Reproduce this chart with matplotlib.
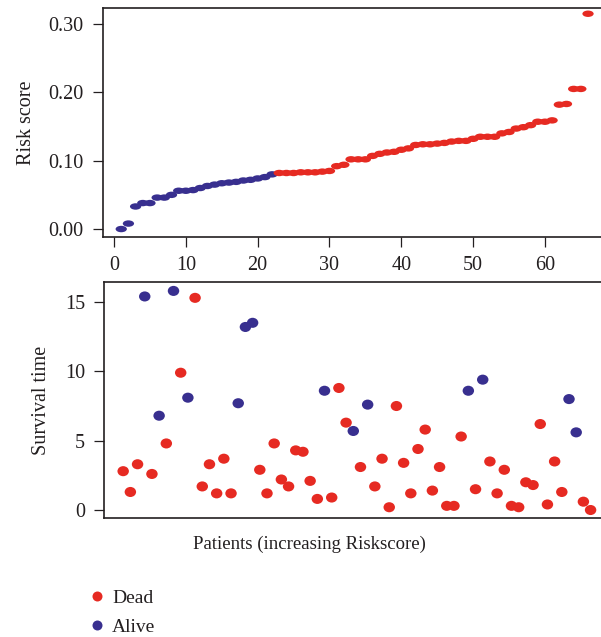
import matplotlib
matplotlib.use("Agg")
import matplotlib.pyplot as plt
from matplotlib.path import Path
from matplotlib.lines import Line2D
import numpy as np

#risk score of each patient, sorted ascending
risk_score = [0.000, 0.008, 0.033, 0.038, 0.038, 0.046, 0.046, 0.050, 0.056, 0.056,
              0.057, 0.060, 0.063, 0.065, 0.067, 0.068, 0.069, 0.071, 0.072, 0.074,
              0.076, 0.080, 0.082, 0.082, 0.082, 0.083, 0.083, 0.083, 0.084, 0.085,
              0.092, 0.094, 0.102, 0.102, 0.102, 0.107, 0.110, 0.112, 0.113, 0.116,
              0.118, 0.123, 0.124, 0.124, 0.125, 0.126, 0.128, 0.129, 0.129, 0.132,
              0.135, 0.135, 0.135, 0.140, 0.142, 0.147, 0.149, 0.152, 0.157, 0.157,
              0.159, 0.182, 0.183, 0.205, 0.205, 0.315]

#number of patients in the low risk group (first ones after sorting)
n_low_risk = 22

#survival time of the same patients
survival_time = [2.8, 1.3, 3.3, 15.4, 2.6, 6.8, 4.8, 15.8, 9.9, 8.1,
                 15.3, 1.7, 3.3, 1.2, 3.7, 1.2, 7.7, 13.2, 13.5, 2.9,
                 1.2, 4.8, 2.2, 1.7, 4.3, 4.2, 2.1, 0.8, 8.6, 0.9,
                 8.8, 6.3, 5.7, 3.1, 7.6, 1.7, 3.7, 0.2, 7.5, 3.4,
                 1.2, 4.4, 5.8, 1.4, 3.1, 0.3, 0.3, 5.3, 8.6, 1.5,
                 9.4, 3.5, 1.2, 2.9, 0.3, 0.2, 2.0, 1.8, 6.2, 0.4,
                 3.5, 1.3, 8.0, 5.6, 0.6, 0.0]

#status: 1 = dead, 0 = alive
status = [1, 1, 1, 0, 1, 0, 1, 0, 1, 0,
          1, 1, 1, 1, 1, 1, 0, 0, 0, 1,
          1, 1, 1, 1, 1, 1, 1, 1, 0, 1,
          1, 1, 0, 1, 0, 1, 1, 1, 1, 1,
          1, 1, 1, 1, 1, 1, 1, 1, 0, 1,
          0, 1, 1, 1, 1, 1, 1, 1, 1, 1,
          1, 1, 0, 0, 1, 1]

top_xticks = [0, 10, 20, 30, 40, 50, 60]
top_yticks = [0.00, 0.10, 0.20, 0.30]
bottom_yticks = [0, 5, 10, 15]
legend_labels = ["Dead", "Alive"]

red = "#E62A22"
blue = "#382F8F"
ink = "#231F20"

plt.rcParams["font.family"] = ["Liberation Serif", "DejaVu Serif"]
plt.rcParams["text.color"] = ink
plt.rcParams["axes.labelcolor"] = ink
plt.rcParams["xtick.color"] = ink
plt.rcParams["ytick.color"] = ink


def ellipse_marker(ratio):
    #unit circle squashed vertically
    circle = Path.unit_circle()
    return Path(circle.vertices * np.array([1.0, ratio]), circle.codes)


patients = np.arange(1, len(risk_score) + 1)
top_colors = [blue if i < n_low_risk else red for i in range(len(risk_score))]
bottom_colors = [red if s == 1 else blue for s in status]

fig = plt.figure(figsize=(6.01, 6.37), dpi=100)
ax_top = fig.add_axes([0.1709, 0.6279, 0.835, 0.3591])
ax_bot = fig.add_axes([0.1730, 0.1863, 0.833, 0.3705])

#risk score panel
ax_top.scatter(patients, risk_score, c=top_colors, s=66, marker=ellipse_marker(0.57),
               linewidths=0, zorder=3)
ax_top.set_xlim(-1.58, 68.3)
ax_top.set_ylim(-0.0117, 0.323)
ax_top.set_xticks(top_xticks)
ax_top.set_yticks(top_yticks)
ax_top.set_yticklabels([f"{v:.2f}" for v in top_yticks])
ax_top.set_ylabel("Risk score", fontsize=14.5)
ax_top.yaxis.label.set_va("center")
ax_top.yaxis.set_label_coords(-0.152, 0.5)

#survival time panel
ax_bot.scatter(patients, survival_time, c=bottom_colors, s=68, marker=ellipse_marker(0.88),
               linewidths=0, zorder=3)
ax_bot.set_xlim(-1.67, 67.95)
ax_bot.set_ylim(-0.6, 16.42)
ax_bot.set_xticks([])
ax_bot.set_yticks(bottom_yticks)
ax_bot.set_ylabel("Survival time", fontsize=14.5)
ax_bot.yaxis.label.set_va("center")
ax_bot.yaxis.set_label_coords(-0.125, 0.5)
ax_bot.set_xlabel("Patients (increasing Riskscore)", fontsize=13.5)
ax_bot.xaxis.set_label_coords(0.41, -0.109)
ax_bot.xaxis.label.set_va("center")

for ax in (ax_top, ax_bot):
    for side in ("left", "top", "bottom"):
        ax.spines[side].set_color(ink)
        ax.spines[side].set_linewidth(1.2)
    ax.spines["right"].set_visible(False)
    ax.tick_params(direction="out", length=7.2, width=0.9, pad=6.5, labelsize=14.5)

#legend below the panels
handles = [Line2D([], [], linestyle="none", marker="o", markersize=7.2,
                  markerfacecolor=c, markeredgewidth=0) for c in (red, blue)]
fig.legend(handles, legend_labels, loc="center left", bbox_to_anchor=(0.148, 0.0385),
           frameon=False, fontsize=14, handlelength=0.8, handletextpad=0.4,
           labelspacing=0.6, borderpad=0, borderaxespad=0)

fig.savefig("out.png", dpi=100)
